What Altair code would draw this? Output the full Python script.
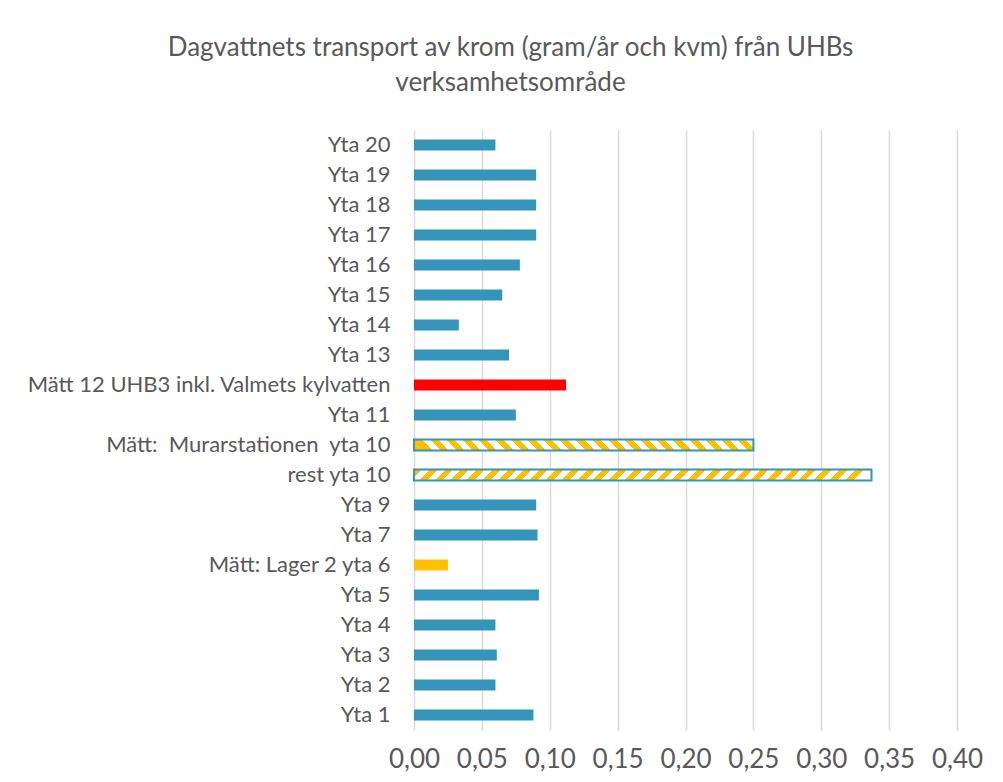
import altair as alt
import pandas as pd

# ---- data (top to bottom as in the chart) ----
kategorier = [
    "Yta 20", "Yta 19", "Yta 18", "Yta 17", "Yta 16", "Yta 15", "Yta 14\u00a0",
    "Yta 13", "Mätt 12 UHB3 inkl. Valmets kylvatten", "Yta 11",
    "Mätt:\u00a0 Murarstationen\u00a0 yta 10", "rest yta 10", "Yta 9", "Yta 7",
    "Mätt: Lager 2 yta 6", "Yta 5", "Yta 4", "Yta 3", "Yta 2", "Yta 1",
]
varden = [
    0.060, 0.090, 0.090, 0.090, 0.078, 0.065, 0.033,
    0.070, 0.112, 0.075,
    0.250, 0.337, 0.090, 0.091,
    0.025, 0.092, 0.060, 0.061, 0.060, 0.088,
]
typ = [
    "blå", "blå", "blå", "blå", "blå", "blå", "blå",
    "blå", "röd", "blå",
    "randig_a", "randig_b", "blå", "blå",
    "gul", "blå", "blå", "blå", "blå", "blå",
]
x_ticks = [0.0, 0.05, 0.10, 0.15, 0.20, 0.25, 0.30, 0.35, 0.40]

df = pd.DataFrame({"kategori": kategorier, "varde": varden, "typ": typ})

# ---- styling ----
BLUE = "#3494BA"
YELLOW = "#FFC000"
RED = "#FF0000"
TEXT = "#595959"
FONT = "Lato"

PLOT_W = 543
PLOT_H = 600
BAR_H = 11
PERIOD = 16  # stripe period in px


def stripes(value, direction):
    w = value / 0.40 * PLOT_W
    k = BAR_H / w
    n = max(1, int(round(w / PERIOD)))
    stops = []
    for i in range(n):
        a = i / n
        m = (i + 0.5) / n
        b = (i + 1) / n
        stops += [
            alt.GradientStop(offset=a, color=YELLOW),
            alt.GradientStop(offset=m, color=YELLOW),
            alt.GradientStop(offset=m, color="#FFFFFF"),
            alt.GradientStop(offset=b, color="#FFFFFF"),
        ]
    if direction == "back":  # "\" stripes
        return alt.Gradient(gradient="linear", stops=stops, x1=0, y1=k, x2=1, y2=0)
    return alt.Gradient(gradient="linear", stops=stops, x1=0, y1=0, x2=1, y2=k)


step = PLOT_H / len(kategorier)
pad_inner = 1 - BAR_H / step

x_enc = alt.X(
    "varde:Q",
    scale=alt.Scale(domain=[0, 0.40], nice=False, zero=True),
    axis=alt.Axis(
        values=x_ticks,
        labelExpr="replace(format(datum.value, '.2f'), '.', ',')",
        title=None,
        grid=True,
        gridColor="#D9D9D9",
        gridWidth=1.5,
        domain=False,
        ticks=False,
        labelFont=FONT,
        labelFontSize=26,
        labelColor=TEXT,
        labelPadding=16,
        labelOverlap=False,
        labelFlush=False,
    ),
)
y_enc = alt.Y(
    "kategori:N",
    scale=alt.Scale(domain=kategorier, paddingInner=pad_inner, paddingOuter=pad_inner / 2),
    axis=alt.Axis(
        title=None,
        domain=False,
        ticks=False,
        grid=False,
        labelFont=FONT,
        labelFontSize=22,
        labelColor=TEXT,
        labelPadding=24,
        labelLimit=500,
    ),
)

base = alt.Chart(df)

plain = base.transform_filter(
    alt.FieldOneOfPredicate(field="typ", oneOf=["blå", "gul", "röd"])
).mark_bar().encode(
    x=x_enc,
    y=y_enc,
    color=alt.Color(
        "typ:N",
        scale=alt.Scale(domain=["blå", "gul", "röd"], range=[BLUE, YELLOW, RED]),
        legend=None,
    ),
)

v_a = varden[typ.index("randig_a")]
v_b = varden[typ.index("randig_b")]

striped_a = base.transform_filter(alt.datum.typ == "randig_a").mark_bar(
    fill=stripes(v_a, "back"), stroke=BLUE, strokeWidth=2
).encode(x=x_enc, y=y_enc)

striped_b = base.transform_filter(alt.datum.typ == "randig_b").mark_bar(
    fill=stripes(v_b, "fwd"), stroke=BLUE, strokeWidth=2
).encode(x=x_enc, y=y_enc)

chart = alt.layer(plain, striped_a, striped_b).properties(
    width=PLOT_W,
    height=PLOT_H,
    title=alt.TitleParams(
        text=["Dagvattnets transport av krom (gram/år och kvm) från UHBs", "verksamhetsområde"],
        font=FONT,
        fontSize=26,
        fontWeight="normal",
        color=TEXT,
        anchor="middle",
        frame="group",
        dx=-175,
        offset=34,
        lineHeight=35,
    ),
    autosize=alt.AutoSizeParams(type="none"),
    padding={"left": 406, "top": 122, "right": 36, "bottom": 44},
).configure_view(stroke=None)

chart.save("out.html", embed_options={"renderer": "svg", "actions": False})
